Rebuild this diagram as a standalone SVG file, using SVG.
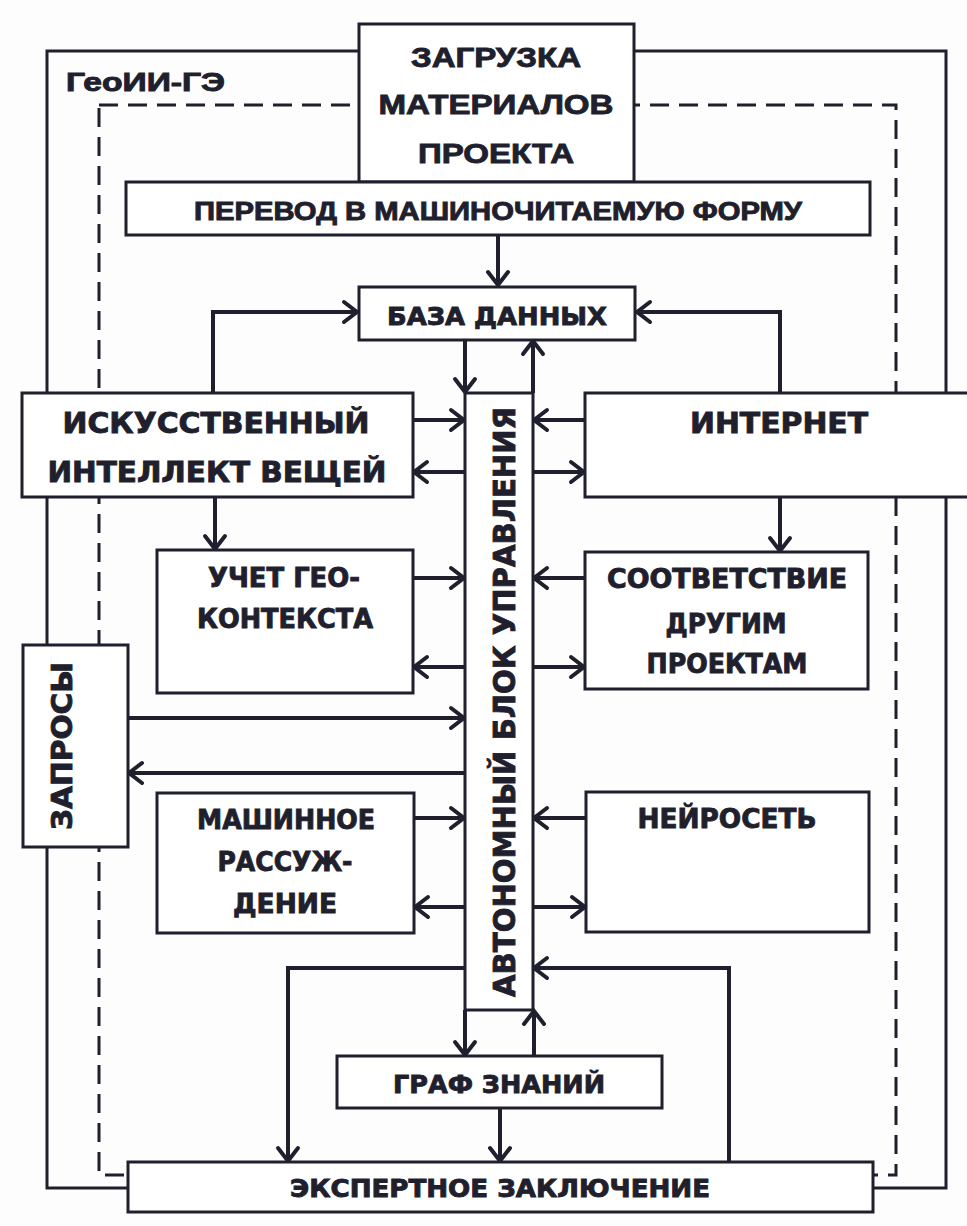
<svg xmlns="http://www.w3.org/2000/svg" width="967" height="1226" viewBox="0 0 967 1226">
<style>
.bg{fill:#fdfdfd}
.box{fill:#ffffff;stroke:#1f1f2d;stroke-width:3}
.frame{fill:none;stroke:#1f1f2d;stroke-width:3}
.dash{fill:none;stroke:#1f1f2d;stroke-width:3;stroke-dasharray:19 10}
.c{fill:none;stroke:#1f1f2d;stroke-width:4;marker-end:url(#ah)}
.w{font-family:"DejaVu Sans","Liberation Sans",sans-serif;font-weight:bold;fill:#1f1f2d;stroke:#1f1f2d;stroke-width:0.9;text-anchor:middle}
.n{font-family:"Liberation Sans","Arial",sans-serif;font-weight:bold;fill:#1f1f2d;stroke:#1f1f2d;stroke-width:0.9;text-anchor:middle}
</style>
<defs>
<marker id="ah" markerUnits="userSpaceOnUse" markerWidth="30" markerHeight="30" viewBox="-16 -15 20 30" refX="0" refY="0" orient="auto">
<path d="M-13,-10 L0,0 L-13,10" fill="none" stroke="#1f1f2d" stroke-width="4" stroke-linecap="round" stroke-linejoin="miter"/>
</marker>
</defs>
<rect class="bg" x="0" y="0" width="967" height="1226"/>
<g id="frames">
<rect class="frame" x="47" y="51" width="899" height="1137"/>
<rect class="dash" x="99" y="105" width="797" height="1070"/>
<text class="n" x="66" y="91" font-size="25" style="text-anchor:start" textLength="159" lengthAdjust="spacingAndGlyphs">ГеоИИ-ГЭ</text>
</g>
<g id="connectors">
<path class="c" d="M498,235 V285"/>
<path class="c" d="M213,393 V312 H357"/>
<path class="c" d="M780,393 V312 H637"/>
<path class="c" d="M465,340 V392"/>
<path class="c" d="M533,393 V341"/>
<path class="c" d="M413,420 H464"/>
<path class="c" d="M465,472 H414"/>
<path class="c" d="M585,420 H534"/>
<path class="c" d="M533,472 H584"/>
<path class="c" d="M215,497 V549"/>
<path class="c" d="M780,497 V551"/>
<path class="c" d="M413,578 H464"/>
<path class="c" d="M465,667 H414"/>
<path class="c" d="M585,578 H534"/>
<path class="c" d="M533,667 H584"/>
<path class="c" d="M128,718 H464"/>
<path class="c" d="M465,773 H129"/>
<path class="c" d="M414,818 H464"/>
<path class="c" d="M465,907 H415"/>
<path class="c" d="M586,818 H534"/>
<path class="c" d="M533,907 H585"/>
<path class="c" d="M465,968 H288 V1161"/>
<path class="c" d="M729,1162 V968 H534"/>
<path class="c" d="M465,1010 V1055"/>
<path class="c" d="M534,1056 V1011"/>
<path class="c" d="M500,1108 V1161"/>
</g>
<g id="zagruzka">
<rect class="box" x="359" y="24" width="275" height="158"/>
<text class="n" x="496" y="67" font-size="28" textLength="170" lengthAdjust="spacingAndGlyphs">ЗАГРУЗКА</text>
<text class="n" x="496" y="114" font-size="28" textLength="235" lengthAdjust="spacingAndGlyphs">МАТЕРИАЛОВ</text>
<text class="n" x="496" y="163" font-size="28" textLength="156" lengthAdjust="spacingAndGlyphs">ПРОЕКТА</text>
</g>
<g id="perevod">
<rect class="box" x="126" y="182" width="744" height="53"/>
<text class="n" x="498" y="220" font-size="25" textLength="608" lengthAdjust="spacingAndGlyphs">ПЕРЕВОД В МАШИНОЧИТАЕМУЮ ФОРМУ</text>
</g>
<g id="baza">
<rect class="box" x="359" y="287" width="276" height="53"/>
<text class="w" x="497" y="325" font-size="25" textLength="220" lengthAdjust="spacingAndGlyphs">БАЗА ДАННЫХ</text>
</g>
<g id="avtonomny">
<rect class="box" x="465" y="393" width="68" height="617"/>
<text class="w" transform="translate(515,702) rotate(-90)" font-size="31" textLength="590" lengthAdjust="spacingAndGlyphs">АВТОНОМНЫЙ БЛОК УПРАВЛЕНИЯ</text>
</g>
<g id="iiv">
<rect class="box" x="22" y="393" width="391" height="104"/>
<text class="w" x="216" y="433" font-size="28" textLength="307" lengthAdjust="spacingAndGlyphs">ИСКУССТВЕННЫЙ</text>
<text class="w" x="217" y="482" font-size="28" textLength="339" lengthAdjust="spacingAndGlyphs">ИНТЕЛЛЕКТ ВЕЩЕЙ</text>
</g>
<g id="internet">
<rect class="box" x="585" y="393" width="400" height="104"/>
<text class="w" x="779" y="433" font-size="28" textLength="178" lengthAdjust="spacingAndGlyphs">ИНТЕРНЕТ</text>
</g>
<g id="uchet">
<rect class="box" x="157" y="550" width="256" height="143"/>
<text class="w" x="284" y="587" font-size="26" textLength="152" lengthAdjust="spacingAndGlyphs">УЧЕТ ГЕО-</text>
<text class="w" x="285" y="628" font-size="26" textLength="176" lengthAdjust="spacingAndGlyphs">КОНТЕКСТА</text>
</g>
<g id="sootv">
<rect class="box" x="585" y="552" width="283" height="137"/>
<text class="w" x="727" y="588" font-size="26" textLength="240" lengthAdjust="spacingAndGlyphs">СООТВЕТСТВИЕ</text>
<text class="w" x="726" y="633" font-size="26" textLength="121" lengthAdjust="spacingAndGlyphs">ДРУГИМ</text>
<text class="w" x="727" y="673" font-size="26" textLength="161" lengthAdjust="spacingAndGlyphs">ПРОЕКТАМ</text>
</g>
<g id="zaprosy">
<rect class="box" x="23" y="645" width="105" height="202"/>
<text class="w" transform="translate(72,746) rotate(-90)" font-size="28" textLength="168" lengthAdjust="spacingAndGlyphs">ЗАПРОСЫ</text>
</g>
<g id="mashinnoe">
<rect class="box" x="157" y="793" width="257" height="140"/>
<text class="w" x="286" y="829" font-size="26" textLength="178" lengthAdjust="spacingAndGlyphs">МАШИННОЕ</text>
<text class="w" x="285" y="871" font-size="26" textLength="135" lengthAdjust="spacingAndGlyphs">РАССУЖ-</text>
<text class="w" x="285" y="913" font-size="26" textLength="104" lengthAdjust="spacingAndGlyphs">ДЕНИЕ</text>
</g>
<g id="neiroset">
<rect class="box" x="586" y="792" width="283" height="140"/>
<text class="w" x="727" y="828" font-size="26" textLength="179" lengthAdjust="spacingAndGlyphs">НЕЙРОСЕТЬ</text>
</g>
<g id="graf">
<rect class="box" x="337" y="1056" width="325" height="52"/>
<text class="w" x="499" y="1093" font-size="25" textLength="212" lengthAdjust="spacingAndGlyphs">ГРАФ ЗНАНИЙ</text>
</g>
<g id="ekspert">
<rect class="box" x="128" y="1162" width="745" height="50"/>
<text class="w" x="500" y="1197" font-size="24" textLength="420" lengthAdjust="spacingAndGlyphs">ЭКСПЕРТНОЕ ЗАКЛЮЧЕНИЕ</text>
</g>
</svg>
